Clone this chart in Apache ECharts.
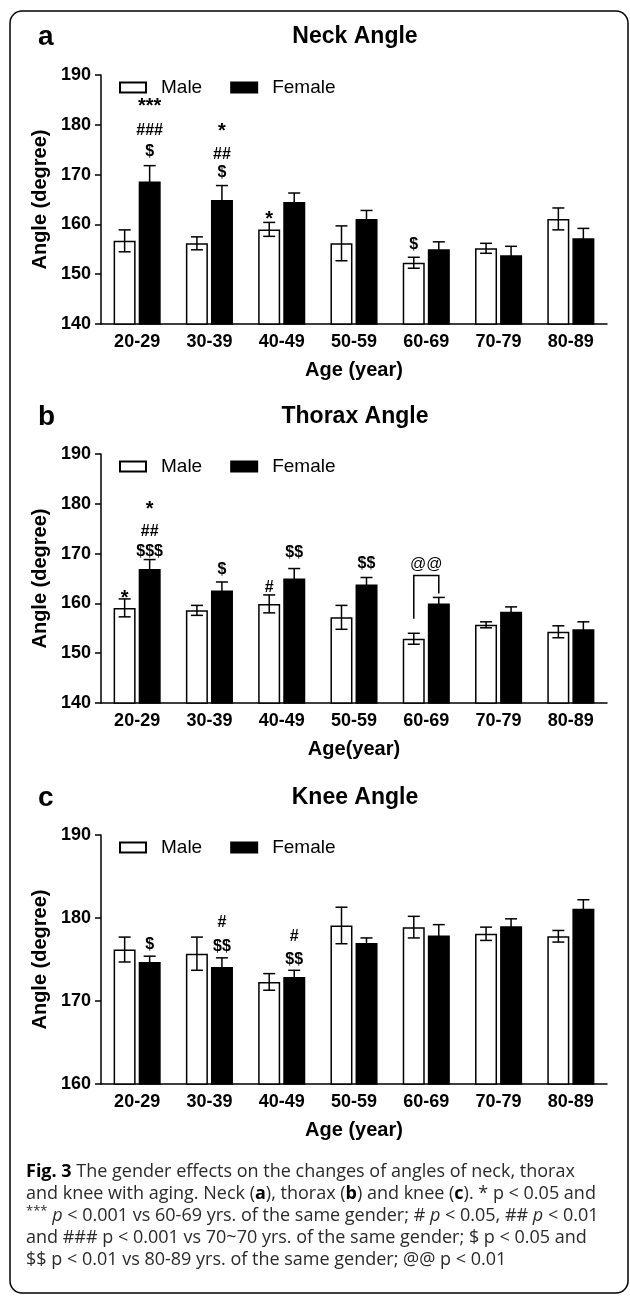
<!DOCTYPE html>
<html>
<head>
<meta charset="utf-8">
<script src="https://cdn.jsdelivr.net/npm/echarts@6/dist/echarts.min.js"></script>
<style>
  html, body { margin: 0; padding: 0; background: #fff; }
  #chart { width: 630px; height: 1297px; }
</style>
</head>
<body>
<div id="chart"></div>
<script>
let myChart = echarts.init(document.getElementById('chart'));

// age groups on the x axis
const ageGroups = ['20-29', '30-39', '40-49', '50-59', '60-69', '70-79', '80-89'];

// Neck angle (mean, SEM)
const neckMale = [156.7, 156.2, 159.0, 156.2, 152.3, 155.2, 161.1];
const neckMaleErr = [2.2, 1.3, 1.4, 3.5, 1.1, 1.0, 2.2];
const neckFemale = [168.6, 164.9, 164.5, 161.1, 155.0, 153.8, 157.2];
const neckFemaleErr = [3.2, 2.9, 1.8, 1.7, 1.5, 1.8, 2.0];

// Thorax angle
const thoraxMale = [159.1, 158.6, 159.9, 157.2, 152.9, 155.7, 154.3];
const thoraxMaleErr = [1.8, 1.0, 1.8, 2.4, 1.1, 0.6, 1.2];
const thoraxFemale = [166.9, 162.6, 165.0, 163.8, 160.0, 158.3, 154.8];
const thoraxFemaleErr = [1.9, 1.7, 2.0, 1.4, 1.2, 1.0, 1.5];

// Knee angle
const kneeMale = [176.2, 175.7, 172.3, 179.1, 178.9, 178.1, 177.8];
const kneeMaleErr = [1.5, 2.0, 1.0, 2.2, 1.3, 0.8, 0.7];
const kneeFemale = [174.7, 174.1, 172.9, 177.0, 177.9, 179.0, 181.1];
const kneeFemaleErr = [0.7, 1.1, 0.8, 0.6, 1.3, 0.9, 1.1];

// significance marks: [group index, side (0 male / 1 female / 2 middle), value, text]
const neckMarks = [
  [0, 1, 184.6, '***'], [0, 1, 178.8, '###'], [0, 1, 174.6, '$'],
  [1, 1, 179.6, '*'], [1, 1, 174.0, '##'], [1, 1, 170.4, '$'],
  [2, 0, 162.0, '*'],
  [4, 0, 156.0, '$']
];
const thoraxMarks = [
  [0, 0, 162.0, '*'],
  [0, 1, 179.8, '*'], [0, 1, 174.4, '##'], [0, 1, 170.4, '$$$'],
  [1, 1, 166.8, '$'],
  [2, 0, 163.2, '#'],
  [2, 1, 170.2, '$$'],
  [3, 1, 168.0, '$$'],
  [4, 2, 167.8, '@@']
];
const kneeMarks = [
  [0, 1, 176.8, '$'],
  [1, 1, 179.4, '#'], [1, 1, 176.6, '$$'],
  [2, 1, 177.8, '#'], [2, 1, 175.0, '$$']
];
// bracket between male and female 60-69 (thorax): [group, left end, top, right end]
const thoraxBracket = [[4, 156.9, 165.6, 162.0]];

const barW = 22;
const barShift = 12.5;   // half of bar width + half of gap
const fontBold = '"Liberation Sans", Arial, sans-serif';

function sideShift(side) {
  return side === 0 ? -barShift : (side === 1 ? barShift : 0);
}

function errorBars(side) {
  return function (params, api) {
    let cat = api.value(0), v = api.value(1), e = api.value(2);
    let top = api.coord([cat, v + e]);
    let bot = api.coord([cat, v - e]);
    let x = top[0] + sideShift(side);
    let st = { stroke: '#000', lineWidth: 1.5 };
    return {
      type: 'group',
      children: [
        { type: 'line', shape: { x1: x, y1: top[1], x2: x, y2: bot[1] }, style: st },
        { type: 'line', shape: { x1: x - 6, y1: top[1], x2: x + 6, y2: top[1] }, style: st },
        { type: 'line', shape: { x1: x - 6, y1: bot[1], x2: x + 6, y2: bot[1] }, style: st }
      ]
    };
  };
}

function marksRender(marks) {
  return function (params, api) {
    let m = marks[params.dataIndex];
    let p = api.coord([api.value(0), api.value(1)]);
    let star = m[3].indexOf('*') >= 0;
    return {
      type: 'text',
      x: p[0] + sideShift(m[1]),
      y: p[1] + (star ? 5 : 0),
      style: {
        text: m[3],
        align: 'center',
        verticalAlign: 'middle',
        font: (m[3] === '@@' ? 'normal ' : 'bold ') + (star ? '20px ' : '16px ') + fontBold,
        fill: '#000'
      }
    };
  };
}

function bracketRender(params, api) {
  let cat = api.value(0);
  let l = api.coord([cat, api.value(1)]);
  let t = api.coord([cat, api.value(2)]);
  let r = api.coord([cat, api.value(3)]);
  return {
    type: 'polyline',
    shape: { points: [[l[0] - barShift, l[1]], [l[0] - barShift, t[1]], [l[0] + barShift, t[1]], [l[0] + barShift, r[1]]] },
    style: { stroke: '#000', lineWidth: 1.5, fill: null }
  };
}

const panels = [
  { male: neckMale, maleErr: neckMaleErr, female: neckFemale, femaleErr: neckFemaleErr, marks: neckMarks, min: 140, max: 190, top: 75, xName: 'Age (year)' },
  { male: thoraxMale, maleErr: thoraxMaleErr, female: thoraxFemale, femaleErr: thoraxFemaleErr, marks: thoraxMarks, min: 140, max: 190, top: 454, xName: 'Age(year)' },
  { male: kneeMale, maleErr: kneeMaleErr, female: kneeFemale, femaleErr: kneeFemaleErr, marks: kneeMarks, min: 160, max: 190, top: 835, xName: 'Age (year)' }
];

let grids = [], xAxes = [], yAxes = [], series = [], legends = [];
panels.forEach((p, i) => {
  grids.push({ left: 101, width: 506, top: p.top, height: 249 });
  xAxes.push({
    type: 'category', gridIndex: i, data: ageGroups,
    name: p.xName, nameLocation: 'middle', nameGap: 36,
    nameTextStyle: { fontFamily: fontBold, fontWeight: 'bold', fontSize: 20, color: '#000' },
    axisLine: { lineStyle: { color: '#000', width: 1.5 } },
    axisTick: { alignWithLabel: true, length: 6, lineStyle: { color: '#000', width: 1.5 } },
    axisLabel: { fontFamily: fontBold, fontWeight: 'bold', fontSize: 18, color: '#000', margin: 9 }
  });
  yAxes.push({
    type: 'value', gridIndex: i, min: p.min, max: p.max, interval: 10,
    name: 'Angle (degree)', nameLocation: 'middle', nameGap: 42,
    nameTextStyle: { fontFamily: fontBold, fontWeight: 'bold', fontSize: 20, color: '#000' },
    axisLine: { show: true, lineStyle: { color: '#000', width: 1.5 } },
    axisTick: { show: true, length: 6, lineStyle: { color: '#000', width: 1.5 } },
    axisLabel: { fontFamily: fontBold, fontWeight: 'bold', fontSize: 18, color: '#000', margin: 10 },
    splitLine: { show: false }
  });
  legends.push({
    top: p.top - 2, left: 114, itemWidth: 26, itemHeight: 10, itemGap: 28,
    icon: 'rect', selectedMode: false,
    textStyle: { fontFamily: fontBold, fontSize: 19, color: '#000', padding: [0, 0, 0, 10] },
    data: ['Male', 'Female']
  });
  series.push({
    name: 'Male', type: 'bar', xAxisIndex: i, yAxisIndex: i, data: p.male,
    barWidth: barW, barGap: '14%',
    itemStyle: { color: '#fff', borderColor: '#000', borderWidth: 1.5 }
  });
  series.push({
    name: 'Female', type: 'bar', xAxisIndex: i, yAxisIndex: i, data: p.female,
    barWidth: barW, barGap: '14%',
    itemStyle: { color: '#000', borderColor: '#000', borderWidth: 1.5 }
  });
  series.push({
    type: 'custom', xAxisIndex: i, yAxisIndex: i, z: 5,
    renderItem: errorBars(0),
    data: p.male.map((v, k) => [k, v, p.maleErr[k]])
  });
  series.push({
    type: 'custom', xAxisIndex: i, yAxisIndex: i, z: 5,
    renderItem: errorBars(1),
    data: p.female.map((v, k) => [k, v, p.femaleErr[k]])
  });
  series.push({
    type: 'custom', xAxisIndex: i, yAxisIndex: i, z: 6,
    renderItem: marksRender(p.marks),
    data: p.marks.map(m => [m[0], m[2]])
  });
});
series.push({
  type: 'custom', xAxisIndex: 1, yAxisIndex: 1, z: 6,
  renderItem: bracketRender,
  data: thoraxBracket
});

const captionLines = [
  '{b|Fig. 3} The gender effects on the changes of angles of neck, thorax',
  'and knee with aging. Neck ({b|a}), thorax ({b|b}) and knee ({b|c}). * p < 0.05 and',
  '{s|***} {i|p} < 0.001 vs 60-69 yrs. of the same gender; # {i|p} < 0.05, ## {i|p} < 0.01',
  'and ### p < 0.001 vs 70~70 yrs. of the same gender; $ p < 0.05 and',
  '$$ p < 0.01 vs 80-89 yrs. of the same gender; @@ p < 0.01'
];

const headText = (x, y, txt, size, align) => ({
  type: 'text', x: x, y: y,
  style: { text: txt, font: 'bold ' + size + 'px ' + fontBold, fill: '#000', align: align, verticalAlign: 'middle' }
});

myChart.setOption({
  animation: false,
  backgroundColor: '#fff',
  grid: grids,
  xAxis: xAxes,
  yAxis: yAxes,
  legend: legends,
  series: series,
  graphic: [
    { type: 'rect', shape: { x: 10, y: 11, width: 618, height: 1282, r: 12 }, style: { fill: null, stroke: '#000', lineWidth: 1.5 } },
    headText(38, 37, 'a', 28, 'left'),
    headText(355, 37, 'Neck Angle', 23, 'center'),
    headText(38, 417, 'b', 28, 'left'),
    headText(355, 417, 'Thorax Angle', 23, 'center'),
    headText(38, 798, 'c', 28, 'left'),
    headText(355, 798, 'Knee Angle', 23, 'center'),
    {
      type: 'text', x: 26, y: 1161,
      style: {
        text: captionLines.join('\n'),
        font: '18px "Open Sans", sans-serif', fill: '#2a2a2a', lineHeight: 22,
        rich: {
          b: { fontFamily: 'Open Sans', fontWeight: 'bold', fontSize: 18, fill: '#000', lineHeight: 22 },
          i: { fontFamily: 'Open Sans', fontStyle: 'italic', fontSize: 18, lineHeight: 22 },
          s: { fontFamily: 'Open Sans', fontSize: 13, lineHeight: 22, verticalAlign: 'top' }
        }
      }
    }
  ]
});
</script>
</body>
</html>
